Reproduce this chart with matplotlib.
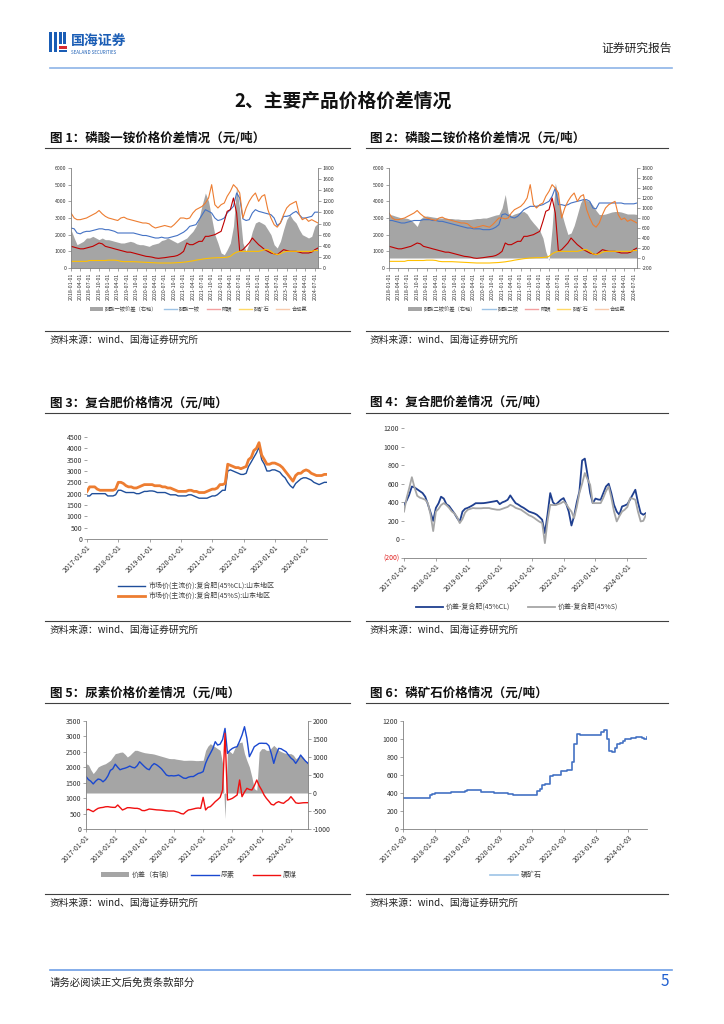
import matplotlib
matplotlib.use('Agg')
import matplotlib.pyplot as plt
from matplotlib.lines import Line2D
from matplotlib.patches import Patch, Rectangle
import pandas as pd

plt.rcParams['font.family'] = ['Noto Sans CJK SC', 'DejaVu Sans']
plt.rcParams['axes.unicode_minus'] = False

W, H = 724, 1024

# ---------------- data (monthly) ----------------
months_18 = pd.date_range('2018-01-01', '2024-08-01', freq='MS')   # fig 1, 2
months_17 = pd.date_range('2017-01-01', '2024-08-01', freq='MS')   # fig 4, 5, 6
months_17b = pd.date_range('2017-01-01', '2024-09-01', freq='MS')  # fig 3

# fig 1 / fig 2 shared raw materials (元/吨)
sulfur = [1300, 1250, 1200, 1150, 1150, 1200, 1250, 1300, 1400, 1500, 1450, 1300,
          1250, 1200, 1150, 1100, 1050, 1000, 950, 950, 900, 850, 800, 750,
          700, 680, 650, 600, 580, 600, 620, 650, 680, 700, 750, 850,
          1000, 1500, 1400, 1400, 1500, 1600, 1600, 1900, 1900, 1950, 2000, 2100,
          2200, 2800, 3400, 3500, 4200, 3300, 1000, 1100, 1300, 1500, 1800, 1600,
          1400, 1250, 1100, 1000, 900, 850, 800, 950, 1100, 1050, 1000, 1000,
          1000, 950, 900, 900, 900, 950, 1100, 1200]
ammonia = [3300, 3000, 2900, 2900, 2950, 3000, 3100, 3200, 3300, 3450, 3250, 3100,
           3000, 2950, 2900, 2850, 3000, 3050, 2950, 2900, 2850, 2800, 2750, 2700,
           2700, 2650, 2500, 2400, 2450, 2500, 2550, 2500, 2450, 2600, 2800, 3000,
           3000, 2950, 3000, 3300, 3500, 3600, 3700, 3900, 4200, 5000, 3800, 3600,
           3800, 3900, 4300, 4600, 5000, 4800, 4500, 3000, 3600, 4000, 4300, 4500,
           4000, 4300, 4400, 3500, 3000, 2600, 2450, 2700, 3200, 3600, 3800, 3900,
           4000, 3200, 2900, 3000, 2800, 2900, 2800, 2700]
rock = [400, 400, 400, 400, 400, 400, 450, 450, 450, 450, 450, 450,
        470, 470, 470, 450, 400, 380, 380, 380, 380, 370, 360, 350,
        340, 330, 320, 310, 300, 300, 300, 300, 300, 310, 320, 330,
        350, 370, 400, 430, 470, 500, 530, 560, 580, 600, 610, 620,
        620, 630, 650, 700, 850, 950, 1000, 1000, 1000, 1000, 1000, 1000,
        1000, 1050, 1100, 1100, 1000, 850, 800, 850, 950, 1000, 1000, 1000,
        1000, 1000, 1000, 1000, 1000, 1000, 1050, 1050]

# fig 1: MAP price (left) and spread (right axis)
map_price = [2400, 2350, 2100, 2050, 2150, 2200, 2200, 2250, 2300, 2350, 2350, 2300,
             2300, 2250, 2200, 2100, 2100, 2100, 2100, 2100, 2100, 2050, 2000, 1950,
             1950, 1900, 1850, 1800, 1800, 1850, 1800, 1800, 1850, 1900, 1950, 2050,
             2150, 2300, 2500, 2550, 2600, 2900, 3200, 3500, 3400, 3300, 3000, 2850,
             2900, 3000, 3300, 3500, 3700, 4500, 4200, 2950, 2850, 2900, 3300, 3500,
             3400, 3350, 3300, 3250, 3200, 3000, 2550, 2700, 3100, 3100, 3150, 3300,
             3400, 3200, 3000, 3000, 3050, 3100, 3350, 3350]
map_spread = [690, 540, 420, 450, 480, 540, 540, 570, 540, 510, 540, 510,
              510, 495, 480, 465, 450, 450, 465, 480, 465, 435, 420, 420,
              405, 390, 420, 435, 450, 495, 510, 540, 510, 480, 450, 480,
              510, 540, 600, 660, 750, 900, 1140, 1350, 1200, 900, 600, 450,
              270, 240, 330, 450, 750, 1470, 1050, 450, 300, 450, 660, 810,
              840, 810, 780, 690, 600, 420, 360, 480, 690, 870, 960, 870,
              810, 690, 600, 570, 540, 570, 750, 810]

# fig 2: DAP price (left) and spread (right axis)
dap_price = [2850, 2850, 2800, 2750, 2700, 2700, 2750, 2800, 2850, 2850, 2850, 2900,
             2900, 2900, 2850, 2850, 2800, 2800, 2750, 2700, 2650, 2600, 2550, 2500,
             2450, 2400, 2400, 2350, 2350, 2350, 2300, 2300, 2300, 2350, 2450, 2600,
             3200, 3250, 3150, 3050, 3000, 3100, 3300, 3500, 3600, 3700, 3700, 3700,
             3750, 3800, 3900, 4000, 4300, 4800, 3800, 3800, 3750, 3800, 3900, 3950,
             4000, 4050, 4100, 4100, 4000, 3600, 3550, 3900, 3900, 3900, 3900, 3900,
             3900, 3900, 3900, 3850, 3850, 3850, 3850, 3900]
dap_spread = [870, 860, 840, 820, 800, 800, 790, 760, 700, 630, 780, 830,
              840, 830, 820, 810, 800, 800, 800, 790, 790, 780, 780, 770,
              770, 770, 770, 780, 790, 790, 800, 800, 820, 840, 860, 870,
              1000, 1270, 900, 850, 880, 900, 920, 930, 880, 780, 700, 630,
              550, 400, 130, -50, 600, 1500, 1200, 900, 670, 470, 500, 650,
              870, 1100, 1200, 1150, 1130, 1050, 950, 870, 870, 880, 900, 920,
              930, 930, 920, 900, 880, 880, 880, 870]

# fig 3: compound fertilizer prices, Shandong
cf_cl = [1900, 1900, 2000, 2000, 2000, 2000, 2000, 2000, 1900, 1900, 1900, 1950,
         2150, 2150, 2100, 2050, 2050, 2050, 2050, 2000, 2000, 2050, 2100, 2100,
         2120, 2120, 2100, 2050, 2050, 2050, 2050, 2000, 1950, 1950, 1950, 1900,
         1900, 1900, 1900, 1950, 1950, 1900, 1850, 1800, 1800, 1800, 1800, 1850,
         1900, 1900, 1950, 2050, 2150, 2150, 3000, 3050, 3000, 2950, 2900, 2850,
         2850, 2900, 3200, 3400, 3600, 3800, 4050, 3500, 3300, 3000, 3000, 3050,
         3050, 3000, 2950, 2800, 2700, 2500, 2350, 2250, 2450, 2550, 2650, 2700,
         2700, 2650, 2600, 2500, 2450, 2400, 2450, 2500, 2500]
cf_s = [2100, 2300, 2300, 2300, 2200, 2150, 2150, 2150, 2150, 2150, 2150, 2200,
        2500, 2500, 2450, 2350, 2300, 2300, 2250, 2250, 2300, 2350, 2400, 2400,
        2400, 2400, 2350, 2350, 2350, 2300, 2300, 2250, 2250, 2200, 2150, 2100,
        2100, 2100, 2100, 2150, 2150, 2100, 2100, 2050, 2050, 2050, 2100, 2150,
        2200, 2200, 2250, 2400, 2400, 2450, 3300, 3250, 3200, 3150, 3150, 3100,
        3150, 3200, 3500, 3600, 3900, 4000, 4250, 3700, 3500, 3300, 3300, 3350,
        3350, 3300, 3250, 3150, 3000, 2850, 2700, 2550, 2800, 2900, 2900, 3000,
        3050, 3000, 2900, 2850, 2800, 2800, 2800, 2850, 2850]

# fig 4: compound fertilizer spreads
spread_cl = [370, 420, 480, 570, 560, 540, 520, 500, 460, 380, 290, 200,
             340, 390, 460, 440, 380, 360, 320, 280, 230, 190, 300, 330,
             340, 355, 370, 390, 390, 390, 391, 395, 400, 405, 410, 416,
             380, 400, 410, 427, 474, 430, 391, 375, 355, 340, 320, 300,
             290, 280, 266, 240, 212, 68, 266, 499, 400, 373, 400, 427,
             445, 380, 300, 150, 250, 400, 517, 850, 870, 700, 500, 391,
             440, 430, 427, 500, 570, 600, 500, 373, 300, 266, 355, 365,
             380, 430, 481, 535, 400, 284, 266, 284]
spread_s = [300, 450, 550, 670, 560, 470, 450, 440, 427, 391, 266, 90,
            300, 330, 370, 391, 370, 340, 302, 280, 240, 176, 220, 290,
            320, 330, 338, 335, 335, 335, 338, 338, 338, 330, 325, 320,
            320, 330, 340, 350, 373, 360, 340, 330, 320, 300, 280, 260,
            248, 230, 210, 190, 176, -40, 194, 373, 370, 370, 380, 390,
            409, 380, 338, 300, 230, 350, 500, 600, 715, 650, 589, 391,
            391, 391, 391, 450, 520, 570, 450, 302, 194, 250, 300, 320,
            350, 445, 440, 427, 300, 194, 200, 266]

# fig 5: urea, coal, spread (right axis)
urea = [1700, 1600, 1550, 1460, 1550, 1620, 1600, 1530, 1600, 1720, 1900, 1950,
        2100, 2000, 1920, 1950, 1970, 2000, 2040, 2000, 1980, 2050, 2180, 2100,
        2020, 1950, 1920, 2050, 2120, 2080, 2020, 1950, 1850, 1750, 1720, 1730,
        1720, 1730, 1750, 1700, 1650, 1640, 1680, 1700, 1700, 1750, 1800, 1820,
        1860, 2130, 2300, 2450, 2600, 2830, 2720, 2750, 2900, 3260, 2450, 2550,
        2613, 2650, 2667, 2850, 3045, 3315, 2937, 2343, 2500, 2667, 2720, 2775,
        2780, 2775, 2775, 2700, 2451, 2127, 2400, 2613, 2600, 2550, 2505, 2400,
        2300, 2235, 2127, 2250, 2397, 2289, 2200, 2127]
coal = [616, 637, 600, 562, 620, 670, 690, 700, 720, 724, 710, 702,
        700, 778, 700, 616, 650, 691, 690, 680, 670, 670, 650, 600,
        594, 620, 648, 640, 630, 620, 616, 610, 600, 590, 583, 583,
        583, 560, 540, 500, 486, 560, 616, 630, 650, 670, 680, 670,
        1026, 616, 700, 724, 800, 886, 950, 1026, 1264, 3100, 940, 960,
        994, 1050, 1102, 1588, 1048, 1200, 1318, 1280, 1264, 1400, 1588, 1400,
        1264, 1100, 994, 900, 800, 778, 850, 886, 850, 832, 900, 950,
        1048, 950, 850, 832, 840, 850, 853, 853]
urea_spread = [815, 780, 650, 540, 620, 722, 760, 790, 815, 860, 907, 1000,
               1093, 1110, 1130, 1139, 1080, 1000, 1050, 1120, 1185, 1185, 1160, 1139,
               1120, 1110, 1100, 1093, 1080, 1060, 1040, 1020, 1000, 980, 960, 954,
               954, 940, 930, 920, 907, 907, 910, 910, 907, 900, 900, 905,
               907, 1185, 1300, 1370, 1320, 1278, 1230, 1185, 815, -713, 1185, 1150,
               1093, 1250, 1370, 1400, 1417, 1093, 900, 722, 444, 120, 74, 1139,
               1231, 1231, 1185, 1185, 1250, 1324, 1260, 1185, 1150, 1120, 1100, 1093,
               1093, 1050, 954, 1000, 1046, 1000, 900, 861]

# fig 6: phosphate rock
rock_price = [350, 350, 350, 350, 350, 350, 350, 350, 350, 350, 380, 390,
              400, 400, 400, 400, 400, 400, 410, 410, 410, 410, 415, 420,
              430, 430, 430, 430, 430, 410, 410, 410, 410, 410, 405, 405,
              405, 405, 400, 390, 385, 380, 380, 380, 380, 380, 380, 380,
              380, 380, 420, 440, 490, 500, 500, 590, 600, 600, 600, 640,
              650, 655, 660, 740, 950, 1060, 1050, 1050, 1050, 1045, 1045, 1040,
              1040, 1040, 1080, 1100, 1000, 870, 860, 900, 950, 960, 980, 1000,
              1000, 1010, 1010, 1020, 1020, 1010, 1005, 1020]

# ---------------- helpers ----------------
fig = plt.figure(figsize=(W / 100, H / 100), dpi=100)


def rect(x0, y0, x1, y1):
    return [x0 / W, 1 - y1 / H, (x1 - x0) / W, (y1 - y0) / H]


def text(x, y, s, **kw):
    fig.text(x / W, 1 - y / H, s, **kw)


def hline(x0, x1, y, color='#404040', lw=0.8):
    fig.add_artist(Line2D([x0 / W, x1 / W], [1 - y / H, 1 - y / H],
                          transform=fig.transFigure, color=color, lw=lw))


def style(ax, fs, sides=('left', 'bottom')):
    for k, sp in ax.spines.items():
        sp.set_visible(k in sides)
        sp.set_color('#7f7f7f')
        sp.set_linewidth(0.6)
    ax.tick_params(labelsize=fs, colors='#7f7f7f', labelcolor='#333333',
                   length=2, width=0.5, pad=1.5)


def legend(handles, labels, cx, cy, fs, ncol, **kw):
    fig.legend(handles, labels, loc='center', bbox_to_anchor=(cx / W, 1 - cy / H),
               ncol=ncol, frameon=False, fontsize=fs, labelcolor='#404040',
               handlelength=kw.pop('hl', 3), columnspacing=kw.pop('cs', 1.5),
               handletextpad=0.4, borderpad=0, labelspacing=0.3, **kw)


# ---------------- page header / footer ----------------
for (x, y, w, h, c) in [(49, 32, 3, 20, '#1A5DB5'), (54, 32, 3, 20, '#1A5DB5'),
                        (59, 32, 3, 12, '#1A5DB5'), (59, 46, 8, 3, '#D7282F'),
                        (63, 32, 3, 12, '#1A5DB5'), (59, 50, 8, 2, '#1A5DB5')]:
    fig.add_artist(Rectangle((x / W, 1 - (y + h) / H), w / W, h / H,
                             transform=fig.transFigure, color=c, lw=0))
text(71, 41, '国海证券', fontsize=10, fontweight='bold', color='#1A5DB5', va='center')
text(71, 52, 'SEALAND SECURITIES', fontsize=3.2, color='#1A5DB5', va='center')
text(672, 48, '证券研究报告', fontsize=8.5, color='#222222', ha='right', va='center')
hline(50, 672, 68, color='#8DB4E8', lw=1.2)
text(343, 101, '2、主要产品价格价差情况', fontsize=13.5, fontweight='bold',
     ha='center', va='center', color='#111111')
hline(50, 672, 970, color='#6FA0E6', lw=1.2)
text(50, 983, '请务必阅读正文后免责条款部分', fontsize=7.5, color='#222222', va='center')
text(665, 981, '5', fontsize=11, color='#1F5FD0', ha='center', va='center')

# titles, rules, sources
titles = [(50, 138, '图 1：磷酸一铵价格价差情况（元/吨）'),
          (370, 138, '图 2：磷酸二铵价格价差情况（元/吨）'),
          (50, 403, '图 3：复合肥价格情况（元/吨）'),
          (370, 403, '图 4：复合肥价差情况（元/吨）'),
          (50, 693, '图 5：尿素价格价差情况（元/吨）'),
          (370, 693, '图 6：磷矿石价格情况（元/吨）')]
for x, y, s in titles:
    text(x, y, s, fontsize=9, fontweight='bold', va='center', color='#111111')
for y_rule, y_src in [(148, None), (331, 340), (413, None), (621, 630),
                      (703, None), (894, 903)]:
    hline(45, 350, y_rule)
    hline(366, 668, y_rule)
    if y_src:
        text(50, y_src, '资料来源：wind、国海证券研究所', fontsize=7, va='center', color='#222222')
        text(370, y_src, '资料来源：wind、国海证券研究所', fontsize=7, va='center', color='#222222')

# ---------------- fig 1 & fig 2 ----------------
qticks = pd.date_range('2018-01-01', '2024-07-01', freq='3MS')
for (x0, x1, price, spread, rlim, name) in [(71, 318, map_price, map_spread, (0, 1800), '磷酸一铵'),
                                             (389, 637, dap_price, dap_spread, (-200, 1800), '磷酸二铵')]:
    ax = fig.add_axes(rect(x0, 168, x1, 268))
    axr = ax.twinx()
    axr.fill_between(months_18, 0, spread, color='#A5A5A5', lw=0)
    ax.plot(months_18, price, color='#4472C4', lw=0.8)
    ax.plot(months_18, sulfur, color='#C00000', lw=0.8)
    ax.plot(months_18, rock, color='#FFC000', lw=0.8)
    ax.plot(months_18, ammonia, color='#ED7D31', lw=0.8)
    ax.set_zorder(axr.get_zorder() + 1)
    ax.patch.set_visible(False)
    ax.set_xlim(months_18[0], months_18[-1])
    ax.set_ylim(0, 6000)
    ax.set_yticks(range(0, 6001, 1000))
    axr.set_ylim(*rlim)
    axr.set_yticks(range(rlim[0], 1801, 200))
    ax.set_xticks(qticks)
    ax.set_xticklabels([d.strftime('%Y-%m-%d') for d in qticks], rotation=90)
    style(ax, 3.8)
    style(axr, 3.8, sides=('right',))
    axr.spines['bottom'].set_visible(False)
    hs = [Patch(facecolor='#A5A5A5'), Line2D([], [], color='#9DC3E6', lw=1),
          Line2D([], [], color='#F4A0A0', lw=1), Line2D([], [], color='#FFD966', lw=1),
          Line2D([], [], color='#F8CBAD', lw=1)]
    ls = [name + '价差（右轴）', name, '硫磺', '磷矿石', '合成氨']
    legend(hs, ls, (x0 + x1) / 2 + 4, 309, 3.8, 5, hl=2.5, cs=1.2)

# ---------------- fig 3 ----------------
yticks_17 = pd.date_range('2017-01-01', '2024-01-01', freq='12MS')
ax3 = fig.add_axes(rect(87, 437, 327, 539))
l1, = ax3.plot(months_17b, cf_cl, color='#1F4E9A', lw=1.0)
l2, = ax3.plot(months_17b, cf_s, color='#ED7D31', lw=2.0)
ax3.set_xlim(months_17b[0], months_17b[-1])
ax3.set_ylim(0, 4500)
ax3.set_yticks(range(0, 4501, 500))
ax3.set_xticks(yticks_17)
ax3.set_xticklabels([d.strftime('%Y-%m-%d') for d in yticks_17], rotation=45,
                    ha='right', rotation_mode='anchor')
style(ax3, 5)
ax3.spines['left'].set_visible(False)
legend([l1, l2], ['市场价(主流价):复合肥(45%CL):山东地区', '市场价(主流价):复合肥(45%S):山东地区'],
       196, 591, 5, 1, hl=4)

# ---------------- fig 4 ----------------
ax4 = fig.add_axes(rect(404, 428, 646, 558))
l1, = ax4.plot(months_17, spread_cl, color='#1F3F8F', lw=1.3)
l2, = ax4.plot(months_17, spread_s, color='#A6A6A6', lw=1.3)
ax4.set_xlim(months_17[0], months_17[-1])
ax4.set_ylim(-200, 1200)
ax4.set_yticks(range(-200, 1201, 200))
ax4.set_yticklabels(['(200)'] + [str(v) for v in range(0, 1201, 200)])
ax4.set_xticks(yticks_17)
ax4.set_xticklabels([d.strftime('%Y-%m-%d') for d in yticks_17], rotation=45,
                    ha='right', rotation_mode='anchor')
style(ax4, 5)
ax4.spines['left'].set_visible(False)
ax4.get_yticklabels()[0].set_color('#E02020')
legend([l1, l2], ['价差-复合肥(45%CL)', '价差-复合肥(45%S)'], 517, 607, 5, 2, hl=4, cs=2.5)

# ---------------- fig 5 ----------------
ax5 = fig.add_axes(rect(86, 721, 308, 829))
ax5r = ax5.twinx()
ax5r.fill_between(months_17, 0, urea_spread, color='#A5A5A5', lw=0)
l1, = ax5.plot(months_17, urea, color='#1A48D0', lw=1.0)
l2, = ax5.plot(months_17, coal, color='#F01010', lw=1.0)
ax5.set_zorder(ax5r.get_zorder() + 1)
ax5.patch.set_visible(False)
ax5.set_xlim(months_17[0], months_17[-1])
ax5.set_ylim(0, 3500)
ax5.set_yticks(range(0, 3501, 500))
ax5r.set_ylim(-1000, 2000)
ax5r.set_yticks(range(-1000, 2001, 500))
ax5.set_xticks(yticks_17)
ax5.set_xticklabels([d.strftime('%Y-%m-%d') for d in yticks_17], rotation=45,
                    ha='right', rotation_mode='anchor')
style(ax5, 5)
style(ax5r, 5, sides=('right',))
legend([Patch(facecolor='#A5A5A5'), l1, l2], ['价差（右轴）', '尿素', '原煤'],
       199, 875, 5, 3, hl=4, cs=2.5)

# ---------------- fig 6 ----------------
ax6 = fig.add_axes(rect(403, 721, 647, 829))
ax6.plot(months_17, rock_price, color='#4472C4', lw=1.2, drawstyle='steps-post')
ax6.set_xlim(months_17[0], months_17[-1])
ax6.set_ylim(0, 1200)
ax6.set_yticks(range(0, 1201, 200))
ticks6 = yticks_17 + pd.Timedelta(days=2)
ax6.set_xticks(ticks6)
ax6.set_xticklabels([d.strftime('%Y-%m-%d') for d in ticks6], rotation=45,
                    ha='right', rotation_mode='anchor')
style(ax6, 5)
legend([Line2D([], [], color='#9DC3E6', lw=1.2)], ['磷矿石'], 516, 875, 5, 1, hl=4)

fig.savefig('out.png', dpi=100)
